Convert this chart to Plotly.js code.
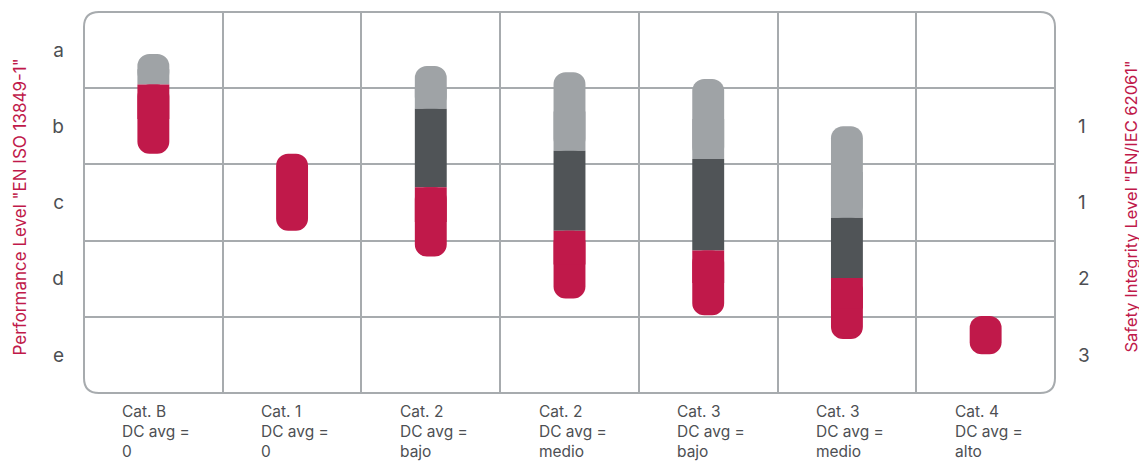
<!DOCTYPE html>
<html>
<head>
<meta charset="utf-8">
<script src="https://cdn.plot.ly/plotly-3.0.1.min.js"></script>
<style>html,body{margin:0;padding:0;background:#fff;}#chart{width:1139px;height:462px;}</style>
</head>
<body>
<div id="chart"></div>
<script>
// ---- data ----
const categories = ['Cat. B', 'Cat. 1', 'Cat. 2', 'Cat. 2', 'Cat. 3', 'Cat. 3', 'Cat. 4'];
const dcPrefix = 'DC avg =';
const dcAvg = ['0', '0', 'bajo', 'medio', 'bajo', 'medio', 'alto'];
const plLabels = ['a', 'b', 'c', 'd', 'e'];
const silLabels = ['1', '1', '2', '3'];
// bar segment limits on the PL scale (0 = top of row a, 5 = bottom of row e)
const lightTop  = [0.55, null, 0.71, 0.79, 0.88, 1.50, null];
const darkTop   = [null, null, 1.27, 1.82, 1.93, 2.70, null];
const redTop    = [0.95, 1.86, 2.30, 2.87, 3.13, 3.49, 3.99];
const barBottom = [1.86, 2.87, 3.21, 3.76, 3.98, 4.29, 4.49];
const plTitle = 'Performance Level "EN ISO 13849-1"';
const silTitle = 'Safety Integrity Level "EN/IEC 62061"';

// ---- styles ----
const RED = '#c0194a', LIGHT = '#9fa3a6', DARK = '#505457';
const GRID = '#a7abae', TXT = '#4d4f53';
const FONT = 'Inter, "Open Sans", sans-serif';
const W = 1139, H = 462, M = {l: 84, r: 84, t: 12, b: 69};
const BW = 0.23, RAD = 12;

const idx = categories.map((_, i) => i);

// derived segments: rounded pieces plus square patches that square off inner ends
const seg = () => ({x: [], base: [], y: []});
const lightR = seg(), lightP = seg(), darkS = seg(), redR = seg(), redP = seg();
const add = (s, i, from, to) => { s.x.push(i); s.base.push(from); s.y.push(to - from); };
idx.forEach(i => {
  if (lightTop[i] != null) {
    const b = darkTop[i] != null ? darkTop[i] : redTop[i];
    add(lightR, i, b, lightTop[i]);
    add(lightP, i, b, (b + lightTop[i]) / 2);
  }
  if (darkTop[i] != null) add(darkS, i, redTop[i], darkTop[i]);
  add(redR, i, redTop[i], barBottom[i]);
  if (lightTop[i] != null || darkTop[i] != null) add(redP, i, redTop[i], (redTop[i] + barBottom[i]) / 2);
});

const common = {type: 'bar', width: BW, hoverinfo: 'skip', showlegend: false};
const mk = (s, color, r, yax) => Object.assign({}, common, s, {yaxis: yax || 'y', marker: {color: color, cornerradius: r, line: {width: 0}}});
const traces = [
  mk(lightR, LIGHT, RAD),
  mk(lightP, LIGHT, 0),
  mk(darkS, DARK, 0),
  mk(redR, RED, RAD, 'y2'),
  mk(redP, RED, 0, 'y2')
];

const pw = W - M.l - M.r, ph = H - M.t - M.b;
const rx = 15 / pw, ry = 15 / ph;
const boxPath = `M ${rx},0 H ${1 - rx} Q 1,0 1,${ry} V ${1 - ry} Q 1,1 ${1 - rx},1 H ${rx} Q 0,1 0,${1 - ry} V ${ry} Q 0,0 ${rx},0 Z`;

const annotations = idx.map(i => ({
  xref: 'x', yref: 'paper', x: i, y: 0, xanchor: 'left', yanchor: 'top', xshift: -33, yshift: -7,
  align: 'left', showarrow: false,
  text: categories[i] + '<br>' + dcPrefix + '<br>' + dcAvg[i],
  font: {family: FONT, size: 15.5, color: TXT}
}));
annotations.push({
  xref: 'paper', yref: 'paper', x: 0, y: 0.5, xshift: -65, yshift: -5, textangle: -90,
  xanchor: 'center', yanchor: 'middle', showarrow: false, text: plTitle,
  font: {family: FONT, size: 17, color: RED}
});
annotations.push({
  xref: 'paper', yref: 'paper', x: 1, y: 0.5, xshift: 75, yshift: -4, textangle: -90,
  xanchor: 'center', yanchor: 'middle', showarrow: false, text: silTitle,
  font: {family: FONT, size: 16.5, color: RED}
});

const layout = {
  width: W, height: H, margin: M,
  paper_bgcolor: '#ffffff', plot_bgcolor: '#ffffff',
  barmode: 'overlay',
  font: {family: FONT, color: TXT},
  xaxis: {
    range: [-0.5, categories.length - 0.5], tickvals: idx, showticklabels: false, ticks: '',
    showgrid: false, zeroline: false, showline: false, fixedrange: true,
    minor: {tickvals: idx.slice(1).map(i => i - 0.5), showgrid: true, gridcolor: GRID, gridwidth: 2, ticks: ''}
  },
  yaxis: {
    range: [plLabels.length, 0], tickvals: plLabels.map((_, i) => i + 0.5), ticktext: plLabels,
    ticks: '', ticklabelstandoff: 19, tickfont: {family: FONT, size: 19, color: TXT},
    showgrid: false, zeroline: false, showline: false, fixedrange: true,
    minor: {tickvals: plLabels.slice(1).map((_, i) => i + 1), showgrid: true, gridcolor: GRID, gridwidth: 2, ticks: ''}
  },
  yaxis2: {
    overlaying: 'y', side: 'right', range: [plLabels.length, 0],
    tickvals: silLabels.map((_, i) => i + 1.5), ticktext: silLabels,
    ticks: '', ticklabelstandoff: 22, tickfont: {family: FONT, size: 19, color: TXT},
    showgrid: false, zeroline: false, showline: false, fixedrange: true
  },
  shapes: [{type: 'path', xref: 'paper', yref: 'paper', path: boxPath, line: {color: GRID, width: 2}, layer: 'above'}],
  annotations: annotations
};

Plotly.newPlot('chart', traces, layout, {displayModeBar: false, staticPlot: true});
</script>
</body>
</html>
